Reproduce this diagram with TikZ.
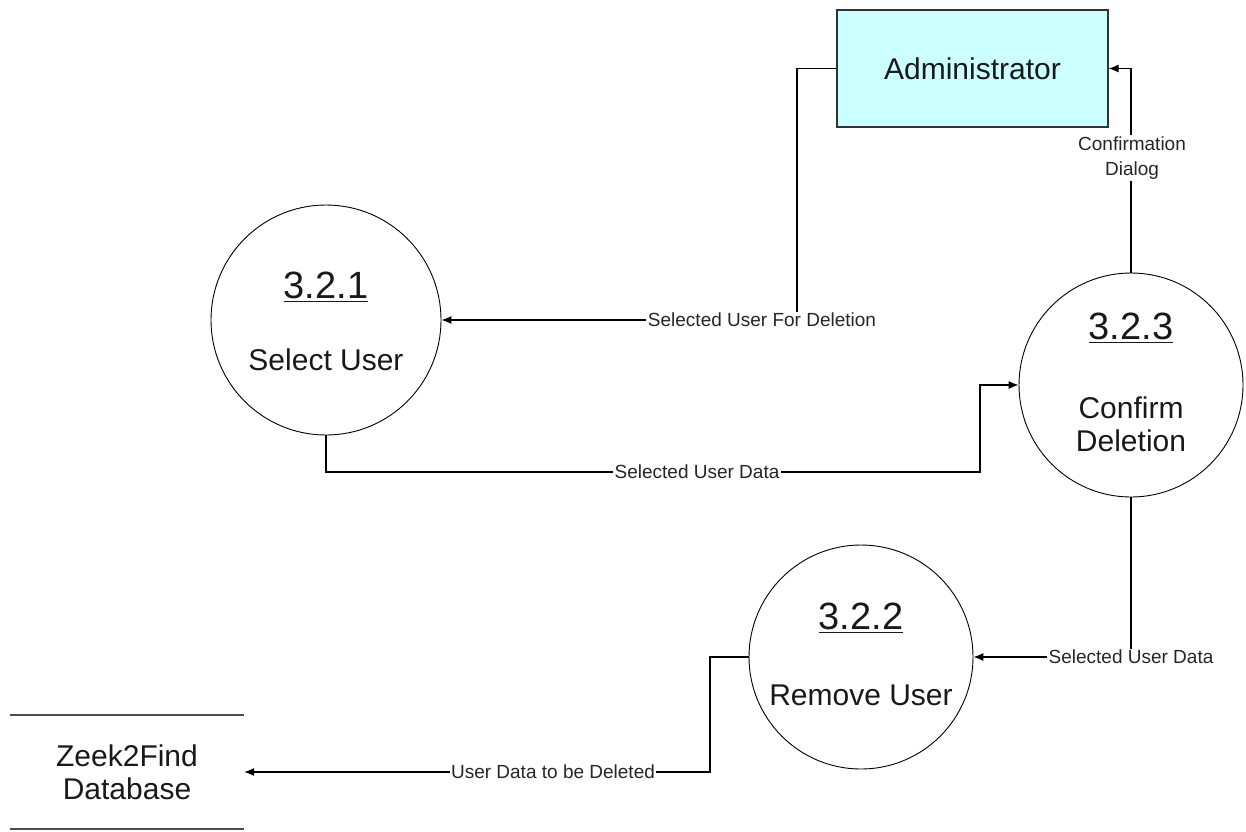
\documentclass[tikz,border=0pt]{standalone}
\usepackage{fontspec}
\setmainfont{Liberation Sans}
\usetikzlibrary{arrows.meta}
\definecolor{admfill}{RGB}{204,255,255}
\definecolor{txt}{RGB}{25,25,25}
\newcommand\ulnum[1]{\setbox0\hbox{#1}\rlap{\rule[-4pt]{\wd0}{1.6pt}}\box0}
\begin{document}
\begin{tikzpicture}[x=1pt,y=-1pt,
  proc/.style={circle,draw=black,line width=0.9pt,minimum size=#1,inner sep=0pt},
  big/.style={font=\fontsize{30}{33}\selectfont,text=txt},
  num/.style={font=\fontsize{38}{40}\selectfont,text=txt,inner sep=0pt},
  lbl/.style={font=\fontsize{19}{24}\selectfont,fill=white,inner sep=1.5pt,text=black!85,align=center},
  flow/.style={draw=black,line width=1.1pt,-{Latex[length=10pt,width=8pt]}},
  store/.style={line width=2pt,draw=black!70}]
\useasboundingbox (0,0) rectangle (1246,831);

% external entity
\node[draw=black!80,line width=1.2pt,fill=admfill,minimum width=271pt,minimum height=117pt,big] (adm) at (972.5,68.5) {Administrator};

% processes
\node[proc=230pt] (p321) at (326,320) {};
\node[num] (n321) at (326,287) {\ulnum{3.2.1}};
\node[big] (t321) at (326,360) {Select User};

\node[proc=224pt] (p323) at (1131,385) {};
\node[num] (n323) at (1131,328) {\ulnum{3.2.3}};
\node[big,align=center] (t323) at (1131,424) {Confirm\\Deletion};

\node[proc=224pt] (p322) at (861,657) {};
\node[num] (n322) at (861,618) {\ulnum{3.2.2}};
\node[big] (t322) at (861,695) {Remove User};

% data store
\node[minimum width=234pt,minimum height=114pt,inner sep=0pt,align=center,big] (db) at (127,772) {Zeek2Find\\Database};
\draw[store] (db.north west) -- (db.north east);
\draw[store] (db.south west) -- (db.south east);

% flows
\coordinate (a1) at (797,68.5);
\draw[flow] (adm.west) -- (a1) |- (p321.east);
\node[lbl] (l1) at (762,320) {Selected User For Deletion};

\coordinate (b1) at (980,472);
\draw[flow] (p321.south) |- (b1) |- (p323.west);
\node[lbl] (l2) at (697,472) {Selected User Data};

\draw[flow] (p323.north) |- (adm.east);
\node[lbl,font=\fontsize{19}{25}\selectfont] (l3) at (1132,158) {Confirmation\\Dialog};

\draw[flow] (p323.south) |- (p322.east);
\node[lbl] (l4) at (1131,657) {Selected User Data};

\coordinate (d1) at (710,772);
\draw[flow] (p322.west) -| (d1) -- (db.east);
\node[lbl] (l5) at (553,772) {User Data to be Deleted};
\end{tikzpicture}
\end{document}
